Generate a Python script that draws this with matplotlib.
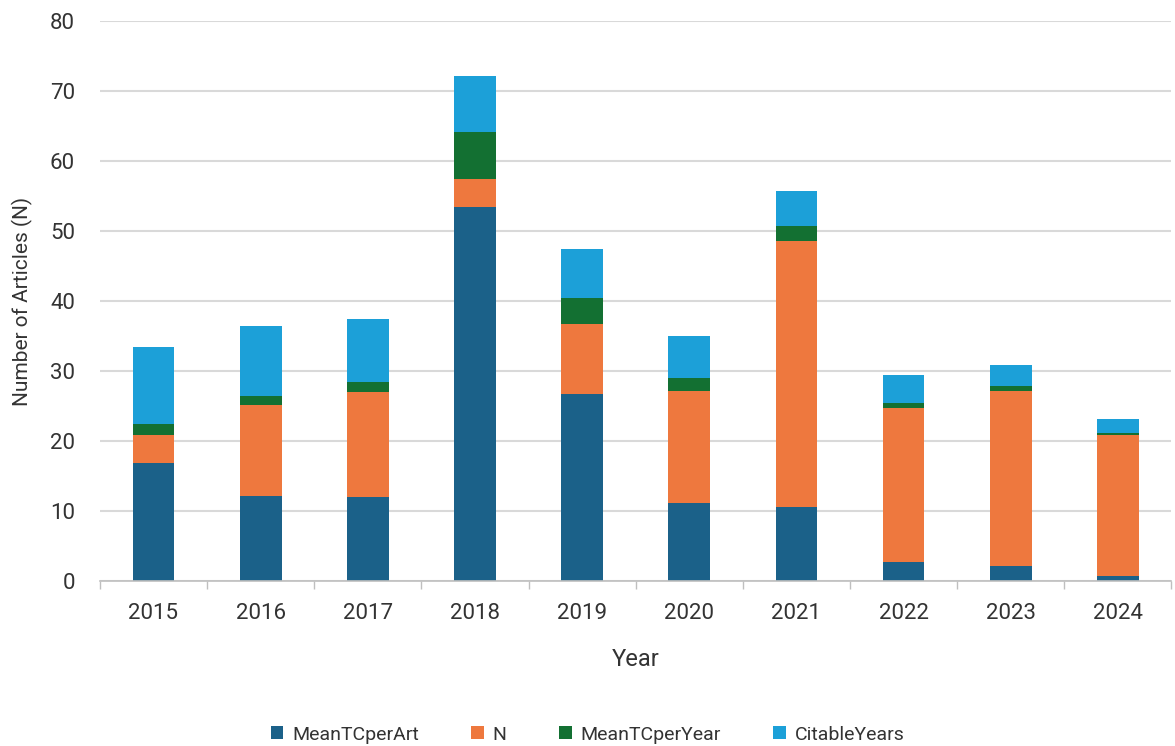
import matplotlib.pyplot as plt
import numpy as np

plt.rcParams['font.family'] = ['Roboto', 'DejaVu Sans']

years = ['2015', '2016', '2017', '2018', '2019', '2020', '2021', '2022', '2023', '2024']
mean_tc_per_art = [16.9, 12.2, 12.0, 53.4, 26.7, 11.2, 10.6, 2.7, 2.2, 0.8]
n_articles = [4, 13, 15, 4, 10, 16, 38, 22, 25, 20]
mean_tc_per_year = [1.5, 1.2, 1.4, 6.7, 3.7, 1.8, 2.1, 0.7, 0.7, 0.4]
citable_years = [11, 10, 9, 8, 7, 6, 5, 4, 3, 2]

series = [
    ('MeanTCperArt', mean_tc_per_art, '#1B6189'),
    ('N', n_articles, '#EE783E'),
    ('MeanTCperYear', mean_tc_per_year, '#137032'),
    ('CitableYears', citable_years, '#1CA0D8'),
]

fig = plt.figure(figsize=(11.75, 7.46), dpi=100)
ax = fig.add_axes([0.085, 0.221, 0.912, 0.751])

x = np.arange(len(years))
bottom = np.zeros(len(years))
for name, vals, col in series:
    ax.bar(x, vals, width=0.39, bottom=bottom, color=col, label=name, zorder=3)
    bottom += np.array(vals)

ax.set_xlim(-0.5, len(years) - 0.5)
ax.set_ylim(0, 80)
ax.set_yticks(range(0, 81, 10))
ax.set_xticks(x)
ax.set_xticklabels(years)
# small ticks between the categories
ax.set_xticks(np.arange(-0.5, len(years), 1), minor=True)
ax.tick_params(axis='x', which='minor', length=6, color='#BFBFBF', width=1)
ax.tick_params(axis='x', which='major', length=0, pad=16, labelsize=16, labelcolor='#333333')
ax.tick_params(axis='y', length=0, pad=18, labelsize=16, labelcolor='#333333')

ax.grid(axis='y', color='#D9D9D9', linewidth=1.5, zorder=0)
for s in ['top', 'right', 'left']:
    ax.spines[s].set_visible(False)
ax.spines['bottom'].set_color('#BFBFBF')
ax.spines['bottom'].set_linewidth(1.2)
ax.spines['bottom'].set_zorder(4)

ax.set_xlabel('Year', fontsize=17, color='#333333', labelpad=17)
ax.set_ylabel('Number of Articles (N)', fontsize=15, color='#333333', labelpad=12)

fig.legend(loc='center', bbox_to_anchor=(0.500, 0.015), ncol=4, frameon=False,
           fontsize=14, handlelength=0.65, handleheight=0.65, handletextpad=0.45,
           columnspacing=2.7, labelcolor='#333333')

fig.savefig('out.png', dpi=100)
